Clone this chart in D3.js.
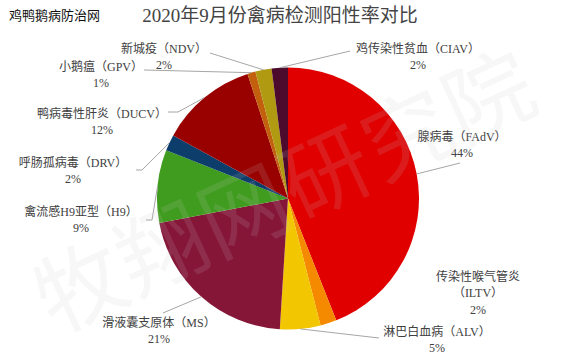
<!DOCTYPE html>
<html><head><meta charset="utf-8">
<script src="https://cdn.jsdelivr.net/npm/d3@7/dist/d3.min.js"></script>
<style>body{margin:0;background:#fff;overflow:hidden}</style>
</head><body><svg id="c" width="564" height="356"></svg>
<script>
// ---- data ----
const categories = ["腺病毒（FAdV）","传染性喉气管炎（ILTV）","淋巴白血病（ALV）","滑液囊支原体（MS）","禽流感H9亚型（H9）","呼肠孤病毒（DRV）","鸭病毒性肝炎（DUCV）","小鹅瘟（GPV）","新城疫（NDV）","鸡传染性贫血（CIAV）"];
const values = [44, 2, 5, 21, 9, 2, 12, 1, 2, 2];
const pctLabels = ["44%","2%","5%","21%","9%","2%","12%","1%","2%","2%"];
const titleText = "2020年9月份禽病检测阳性率对比";
const brandText = "鸡鸭鹅病防治网";
const watermarkText = "牧翔网研究院";

// ---- style ----
const colors = ["#e00000","#f58a00","#f2c600","#861638","#3f9c1e","#0d3d6b","#990000","#c2600e","#b09a12","#4c0b2c"];

// ---- layout (label centres, leader elbows) ----
const labelLayout = [
  {cx:462, y:137, wrap:false, leader:[[460,163]]},
  {cx:478, y:277, wrap:true,  leader:null},
  {cx:437, y:332, wrap:false, leader:[[379,338]]},
  {cx:159, y:323, wrap:false, leader:[[163,313]]},
  {cx:81,  y:212, wrap:false, leader:[[146,220],[152,220]]},
  {cx:73,  y:163, wrap:false, leader:[[136,170],[142,170]]},
  {cx:102, y:114, wrap:false, leader:[[168,112],[178,112]]},
  {cx:101, y:67,  wrap:false, leader:[[144,70]]},
  {cx:164, y:49,  wrap:false, leader:[[210,53]]},
  {cx:418, y:49,  wrap:false, leader:[[350,51]]}
];
const W = 564, H = 356, CX = 288, CY = 198.5, R = 131;
const FONT = "'Liberation Serif','Noto Sans CJK SC',serif";

const svg = d3.select("#c");
svg.append("rect").attr("width",W).attr("height",H).attr("fill","#fff");

svg.append("text").attr("x",9).attr("y",14).attr("dominant-baseline","central")
  .attr("font-family","'Noto Sans CJK SC',sans-serif").attr("font-size",13).attr("fill","#111")
  .text(brandText);
svg.append("text").attr("x",280).attr("y",15).attr("dominant-baseline","central")
  .attr("text-anchor","middle").attr("font-family",FONT).attr("font-size",19).attr("fill","#444")
  .text(titleText);

const pie = d3.pie().sort(null).value(d=>d)(values);
const arc = d3.arc().innerRadius(0).outerRadius(R);
const g = svg.append("g").attr("transform",`translate(${CX},${CY})`);
g.selectAll("path").data(pie).join("path").attr("d",arc).attr("fill",(d,i)=>colors[i]);

// leader lines
const line = d3.line();
pie.forEach((d,i)=>{
  const L = labelLayout[i];
  if(!L.leader) return;
  const a = (d.startAngle + d.endAngle)/2;
  const pt = [CX + Math.sin(a)*R, CY - Math.cos(a)*R];
  svg.append("path").attr("d", line([...L.leader, pt]))
    .attr("fill","none").attr("stroke","#a6a6a6").attr("stroke-width",1);
});

// labels
pie.forEach((d,i)=>{
  const L = labelLayout[i];
  let lines = [categories[i]];
  if(L.wrap){ const k = categories[i].indexOf("（"); lines = [categories[i].slice(0,k), categories[i].slice(k)]; }
  lines.push(pctLabels[i]);
  lines.forEach((t,j)=>{
    svg.append("text").attr("x",L.cx).attr("y",L.y + j*16.3)
      .attr("text-anchor","middle").attr("dominant-baseline","central")
      .attr("font-family",FONT).attr("font-size",12).attr("fill","#404040").text(t);
  });
});

// faint watermark, one glyph at a time along a diagonal
const wmChars = Array.from(watermarkText);
const wmAng = -25 * Math.PI/180, wmStep = 90, wmCx = 282, wmCy = 186;
svg.append("g").attr("pointer-events","none").selectAll("text").data(wmChars).join("text")
  .attr("transform",(c,k)=>{
    const off = (k - (wmChars.length-1)/2) * wmStep;
    return `translate(${wmCx + off*Math.cos(wmAng)},${wmCy + off*Math.sin(wmAng)}) rotate(-25)`;
  })
  .attr("text-anchor","middle").attr("dominant-baseline","central")
  .attr("font-family","'Noto Sans CJK SC',sans-serif").attr("font-size",88)
  .attr("fill","#c8c8c8").attr("fill-opacity",0.14).text(c=>c);
</script></body></html>
